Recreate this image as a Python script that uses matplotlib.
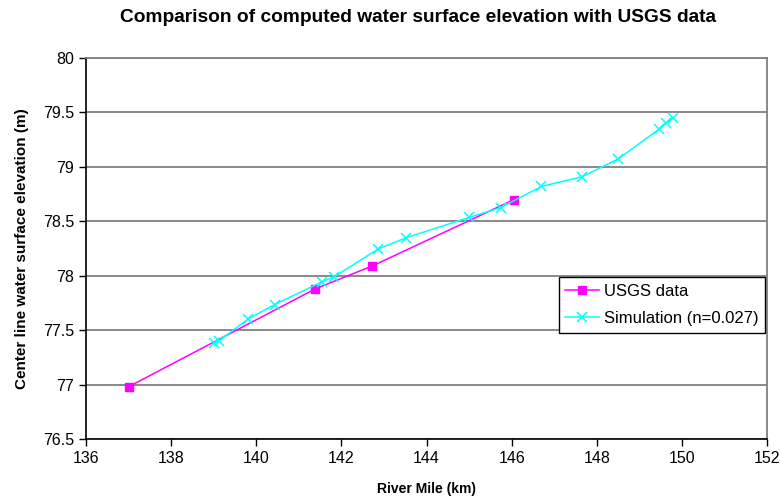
import matplotlib.pyplot as plt

plt.rcParams['font.family'] = ['Liberation Sans', 'DejaVu Sans']

# USGS observations
usgs_km = [137.0, 141.39, 142.73, 146.06]
usgs_elev = [76.98, 77.88, 78.09, 78.70]

# simulation, n = 0.027
sim_km = [139.0, 139.12, 139.80, 140.43, 141.55, 141.83, 142.86, 143.53,
          145.0, 145.74, 146.70, 147.66, 148.51, 149.46, 149.62, 149.78]
sim_elev = [77.38, 77.40, 77.60, 77.735, 77.945, 77.99, 78.245, 78.35,
            78.535, 78.625, 78.82, 78.91, 79.075, 79.345, 79.40, 79.445]

x_ticks = [136, 138, 140, 142, 144, 146, 148, 150, 152]
y_ticks = [76.5, 77, 77.5, 78, 78.5, 79, 79.5, 80]

fig = plt.figure(figsize=(7.8, 4.99), dpi=100)
ax = fig.add_axes([86 / 780, 1 - 439 / 499, 681 / 780, 381 / 499])

ax.plot(usgs_km, usgs_elev, color='#ff00ff', lw=1.1, marker='s', ms=5.5,
        mec='#ff00ff', mfc='#ff00ff', label='USGS data', zorder=3)
ax.plot(sim_km, sim_elev, color='#00ffff', lw=1.1, marker='x', ms=7, mew=1.1,
        label='Simulation (n=0.027)', zorder=4)

ax.set_xlim(136, 152)
ax.set_ylim(76.5, 80)
ax.set_xticks(x_ticks)
ax.set_yticks(y_ticks)
ax.set_yticklabels(['76.5', '77', '77.5', '78', '78.5', '79', '79.5', '80'])
ax.tick_params(direction='out', length=5, width=1, labelsize=11.5, colors='black')
ax.yaxis.grid(True, color='#808080', lw=1.3)
ax.set_axisbelow(True)

for s in ['left', 'bottom']:
    ax.spines[s].set_color('black')
    ax.spines[s].set_linewidth(1.2)
for s in ['top', 'right']:
    ax.spines[s].set_color('#808080')
    ax.spines[s].set_linewidth(1.3)

ax.set_xlabel('River Mile (km)', fontsize=10, fontweight='bold', labelpad=12)
ax.set_ylabel('Center line water surface elevation (m)', fontsize=11,
              fontweight='bold', labelpad=10)
fig.text(418 / 780, 1 - 17 / 499, 'Comparison of computed water surface elevation with USGS data',
         ha='center', va='center', fontsize=13.8, fontweight='bold')

leg = ax.legend(loc='upper right', bbox_to_anchor=(0.997, 0.425), fontsize=12,
                frameon=True, fancybox=False, framealpha=1, edgecolor='black',
                borderpad=0.4, labelspacing=0.75, handlelength=2.0,
                handletextpad=0.3, borderaxespad=0)
leg.get_frame().set_linewidth(1.0)

fig.savefig('out.png', dpi=100)
